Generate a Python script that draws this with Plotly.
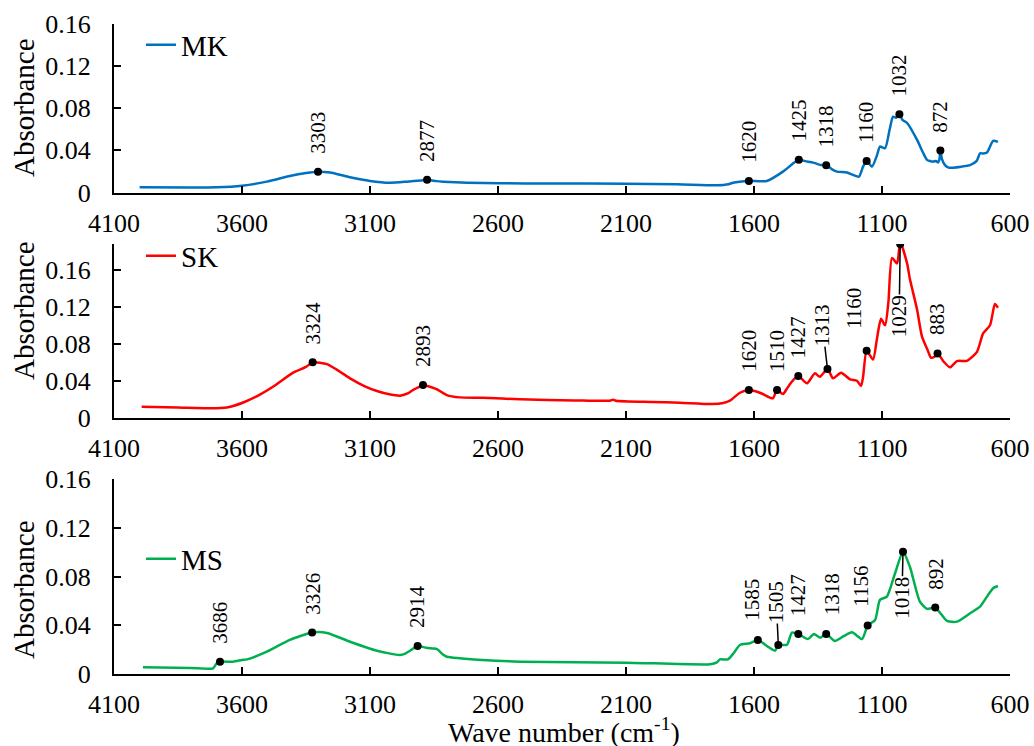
import plotly.graph_objects as go

# ---------------- data ----------------
series_names = ["MK", "SK", "MS"]
series_colors = ["#0070C0", "#FF0000", "#00B050"]

mk_wn = [4000, 3800, 3700, 3600, 3503, 3413, 3350, 3303, 3256, 3178, 3100, 3022, 2956, 2900,
         2877, 2840, 2815, 2721, 2592, 2400, 2100, 1900, 1745, 1700, 1682, 1620, 1550, 1487,
         1450, 1425, 1400, 1369, 1340, 1318, 1295, 1276, 1237, 1213, 1190, 1174, 1160, 1139,
         1120, 1108, 1088, 1070, 1057, 1045, 1032, 1020, 1002, 963, 940, 924, 901, 890, 882,
         876, 872, 866, 854, 840, 823, 790, 756, 730, 717, 705, 690, 666, 647]
mk_abs = [0.0050, 0.0048, 0.0050, 0.0065, 0.0103, 0.0157, 0.0185, 0.0198, 0.0190, 0.0145,
          0.0110, 0.0093, 0.0103, 0.0115, 0.0120, 0.0108, 0.0103, 0.0093, 0.0087, 0.0086,
          0.0084, 0.0078, 0.0068, 0.0078, 0.0093, 0.0110, 0.0110, 0.0198, 0.0270, 0.0312,
          0.0298, 0.0284, 0.0262, 0.0259, 0.0220, 0.0198, 0.0190, 0.0167, 0.0150, 0.0246,
          0.0300, 0.0246, 0.0350, 0.0436, 0.0420, 0.0600, 0.0720, 0.0710, 0.0744, 0.0690,
          0.0660, 0.0500, 0.0380, 0.0310, 0.0293, 0.0300, 0.0285, 0.0310, 0.0400, 0.0320,
          0.0260, 0.0236, 0.0236, 0.0245, 0.0260, 0.0300, 0.0373, 0.0370, 0.0380, 0.0490,
          0.0480]

sk_wn = [3992, 3850, 3700, 3650, 3588, 3530, 3479, 3400, 3350, 3324, 3268, 3230, 3178, 3120,
         3073, 3020, 2983, 2950, 2932, 2900, 2893, 2860, 2838, 2800, 2750, 2659, 2514, 2300,
         2163, 2150, 2140, 2000, 1889, 1764, 1720, 1694, 1655, 1620, 1577, 1540, 1526, 1510,
         1487, 1470, 1452, 1427, 1393, 1362, 1343, 1313, 1291, 1260, 1225, 1198, 1182, 1174,
         1160, 1135, 1120, 1104, 1088, 1075, 1061, 1041, 1029, 1002, 991, 963, 944, 920, 909,
         895, 883, 860, 834, 807, 768, 729, 705, 678, 659, 647]
sk_abs = [0.0119, 0.0110, 0.0102, 0.0115, 0.0173, 0.0250, 0.0335, 0.0487, 0.0550, 0.0599,
          0.0580, 0.0520, 0.0426, 0.0340, 0.0289, 0.0250, 0.0238, 0.0265, 0.0300, 0.0345,
          0.0354, 0.0330, 0.0307, 0.0245, 0.0220, 0.0216, 0.0199, 0.0187, 0.0184, 0.0195,
          0.0184, 0.0170, 0.0162, 0.0148, 0.0160, 0.0184, 0.0270, 0.0300, 0.0270, 0.0220,
          0.0210, 0.0300, 0.0256, 0.0320, 0.0390, 0.0450, 0.0372, 0.0480, 0.0443, 0.0526,
          0.0426, 0.0487, 0.0415, 0.0400, 0.0343, 0.0440, 0.0725, 0.0630, 0.0850, 0.1070,
          0.1000, 0.1250, 0.1730, 0.1670, 0.1900, 0.1670, 0.1500, 0.1170, 0.0880, 0.0720,
          0.0650, 0.0660, 0.0696, 0.0610, 0.0545, 0.0613, 0.0616, 0.0713, 0.0912, 0.1000,
          0.1230, 0.1190]

ms_wn = [3987, 3800, 3713, 3700, 3686, 3635, 3600, 3580, 3503, 3413, 3326, 3268, 3178, 3073,
         2983, 2960, 2944, 2914, 2880, 2854, 2838, 2815, 2800, 2659, 2514, 2096, 1772, 1745,
         1733, 1702, 1680, 1655, 1616, 1585, 1550, 1518, 1505, 1471, 1452, 1427, 1389, 1366,
         1342, 1318, 1284, 1250, 1217, 1178, 1156, 1127, 1108, 1081, 1049, 1018, 991, 952,
         924, 892, 846, 807, 756, 717, 690, 666, 647]
ms_abs = [0.0055, 0.0050, 0.0047, 0.0085, 0.0101, 0.0101, 0.0115, 0.0120, 0.0183, 0.0280,
          0.0340, 0.0337, 0.0265, 0.0191, 0.0156, 0.0170, 0.0190, 0.0230, 0.0215, 0.0210,
          0.0205, 0.0160, 0.0142, 0.0115, 0.0101, 0.0093, 0.0080, 0.0095, 0.0120, 0.0120,
          0.0170, 0.0238, 0.0252, 0.0280, 0.0230, 0.0191, 0.0238, 0.0240, 0.0340, 0.0328,
          0.0287, 0.0328, 0.0298, 0.0328, 0.0271, 0.0310, 0.0342, 0.0287, 0.0397, 0.0443,
          0.0608, 0.0635, 0.0827, 0.1004, 0.0880, 0.0594, 0.0534, 0.0545, 0.0435, 0.0430,
          0.0498, 0.0553, 0.0635, 0.0704, 0.0722]

mk_peak_wn = [3303, 2877, 1620, 1425, 1318, 1160, 1032, 872]
mk_peak_abs = [0.0198, 0.0120, 0.0110, 0.0312, 0.0259, 0.0300, 0.0744, 0.0400]
sk_peak_wn = [3324, 2893, 1620, 1510, 1427, 1313, 1160, 1029, 883]
sk_peak_abs = [0.0599, 0.0354, 0.0300, 0.0300, 0.0450, 0.0526, 0.0725, 0.1880, 0.0696]
ms_peak_wn = [3686, 3326, 2914, 1585, 1505, 1427, 1318, 1156, 1018, 892]
ms_peak_abs = [0.0101, 0.0340, 0.0230, 0.0280, 0.0238, 0.0328, 0.0328, 0.0397, 0.1004, 0.0545]

x_tick_vals = [4100, 3600, 3100, 2600, 2100, 1600, 1100, 600]
y_tick_vals = [0, 0.04, 0.08, 0.12, 0.16]
y_tick_text = ["0", "0.04", "0.08", "0.12", "0.16"]
y_top = [0.16, 0.188, 0.16]
y_title = "Absorbance"
x_title = "Wave number (cm<sup>-1</sup>)"

# ---------------- styling ----------------
FONT = "Liberation Serif, Times New Roman, serif"
x_dom = [114 / 1034, 1010 / 1034]
y_doms = [[1 - 192.5 / 746, 1 - 24 / 746],
          [1 - 417.7 / 746, 1 - 244 / 746],
          [1 - 674 / 746, 1 - 479 / 746]]
legend_y = [1 - 45 / 746, 1 - 256 / 746, 1 - 559 / 746]
ytitle_y = [1 - 108 / 746, 1 - 311 / 746, 1 - 590 / 746]

# label placement tweaks (pixels): plain shifts or leader lines
label_shift = {("SK", 1160): (-12, 21), ("MS", 1585): (-6, 18),
               ("MS", 1318): (6, 18), ("MS", 1156): (-7, 18)}
label_leader = {("SK", 1313): (-5, -44), ("SK", 1029): (-1, 72),
                ("MS", 1505): (-2, -43), ("MS", 1018): (-1, 46)}

fig = go.Figure()
curves = [(mk_wn, mk_abs), (sk_wn, sk_abs), (ms_wn, ms_abs)]
peaks = [(mk_peak_wn, mk_peak_abs), (sk_peak_wn, sk_peak_abs), (ms_peak_wn, ms_peak_abs)]
annotations = []

for i in range(3):
    sfx = "" if i == 0 else str(i + 1)
    xa, ya = "x" + sfx, "y" + sfx
    lg = "legend" + sfx
    fig.add_trace(go.Scatter(x=curves[i][0], y=curves[i][1], mode="lines",
                             name=series_names[i], legend=lg,
                             line=dict(color=series_colors[i], width=2.5,
                                       shape="spline", smoothing=0.6),
                             xaxis=xa, yaxis=ya, hoverinfo="x+y"))
    fig.add_trace(go.Scatter(x=peaks[i][0], y=peaks[i][1], mode="markers",
                             marker=dict(color="black", size=8), showlegend=False,
                             xaxis=xa, yaxis=ya))
    for wn, ab in zip(*peaks[i]):
        key = (series_names[i], wn)
        base = dict(x=wn, y=ab, xref=xa, yref=ya, text=str(wn), textangle=-90,
                    font=dict(family=FONT, size=21, color="black"))
        if key in label_leader:
            ax, ay = label_leader[key]
            base.update(showarrow=True, arrowhead=0, arrowwidth=1.5, arrowcolor="black",
                        ax=ax, ay=ay, standoff=0, borderpad=0)
        else:
            xs, ys = label_shift.get(key, (0, 17))
            base.update(showarrow=False, xanchor="center", yanchor="bottom",
                        xshift=xs, yshift=ys, borderpad=0)
        annotations.append(base)

    axis_common = dict(showline=True, linecolor="black", linewidth=2, ticks="inside",
                       ticklen=7, tickwidth=1.5, tickcolor="black", showgrid=False,
                       zeroline=False, automargin=False,
                       tickfont=dict(family=FONT, size=26, color="black"))
    fig.layout["xaxis" + sfx] = dict(domain=x_dom, range=[4100, 600], tickvals=x_tick_vals,
                                    ticktext=[str(v) for v in x_tick_vals],
                                    anchor=ya, ticklabelstandoff=6, **axis_common)
    fig.layout["yaxis" + sfx] = dict(domain=y_doms[i], range=[0, y_top[i]],
                                    tickvals=y_tick_vals, ticktext=y_tick_text,
                                    anchor=xa, ticklabelstandoff=16, **axis_common)
    fig.layout[lg] = dict(x=141 / 1034, y=legend_y[i], xanchor="left", yanchor="middle",
                          bgcolor="rgba(0,0,0,0)",
                          font=dict(family=FONT, size=29, color="black"))
    annotations.append(dict(x=24 / 1034, y=ytitle_y[i], xref="paper", yref="paper",
                            text=y_title, textangle=-90, showarrow=False,
                            xanchor="center", yanchor="middle",
                            font=dict(family=FONT, size=29, color="black")))

annotations.append(dict(x=564 / 1034, y=1 - 730 / 746, xref="paper", yref="paper",
                        text=x_title, showarrow=False, xanchor="center", yanchor="middle",
                        borderpad=0, font=dict(family=FONT, size=28, color="black")))

fig.update_layout(width=1034, height=746,
                  margin=dict(l=0, r=0, t=0, b=0, autoexpand=False),
                  paper_bgcolor="white", plot_bgcolor="white",
                  annotations=annotations, showlegend=True,
                  font=dict(family=FONT, color="black"))

fig.write_html("out.html", post_script="document.body.style.margin='0';",
               config={"displayModeBar": False})
